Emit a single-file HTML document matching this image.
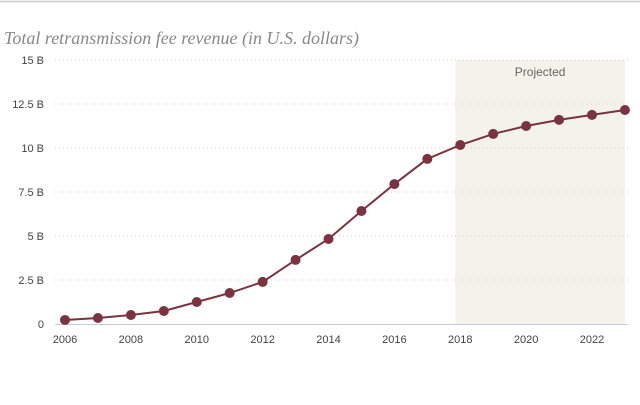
<!DOCTYPE html>
<html><head><meta charset="utf-8"><style>
body{margin:0;background:#fff;width:640px;height:400px;overflow:hidden}
</style></head><body>
<svg width="640" height="400" font-family="Liberation Sans, DejaVu Sans, sans-serif">
<line x1="0" y1="1.5" x2="640" y2="1.5" stroke="#ccc" stroke-width="1.5"/>
<text x="4" y="44" font-family="Liberation Serif, serif" font-style="italic" font-size="18" fill="#888">Total retransmission fee revenue (in U.S. dollars)</text>
<g id="g"></g>
</svg>
<script>
const years=[2006,2007,2008,2009,2010,2011,2012,2013,2014,2015,2016,2017,2018,2019,2020,2021,2022,2023];
const revenue=[0.23,0.34,0.51,0.74,1.25,1.76,2.39,3.64,4.83,6.42,7.95,9.38,10.17,10.8,11.25,11.6,11.88,12.16];
const yTicks=[0,2.5,5,7.5,10,12.5,15];
const yTickLabels=["0","2.5 B","5 B","7.5 B","10 B","12.5 B","15 B"];
const xTicks=[2006,2008,2010,2012,2014,2016,2018,2020,2022];
const projStart=2017.85, projEnd=2023;
const X=v=>65+(v-2006)*(592-65)/16;
const Y=v=>324-v*17.6;
const g=document.getElementById('g');
const NS='http://www.w3.org/2000/svg';
function mk(t,a){const e=document.createElementNS(NS,t);for(const k in a)e.setAttribute(k,a[k]);g.appendChild(e);return e;}
let r=mk('rect',{x:X(projStart),y:Y(15),width:X(projEnd)-X(projStart),height:Y(0)-Y(15),fill:'#f3f3ec'});


let pt=mk('text',{x:(X(projStart)+X(projEnd))/2,y:Y(15)+16,'text-anchor':'middle','font-size':12,fill:'#666'});pt.textContent='Projected';


yTicks.forEach((v,i)=>{
 if(v>0){let l=mk('line',{x1:55,x2:628,y1:Y(v),y2:Y(v),stroke:'#ccc','stroke-dasharray':'1 3'});
 
 }
 let t=mk('text',{x:44,y:Y(v)+4,'text-anchor':'end','font-size':11,fill:'#444'});t.textContent=yTickLabels[i];
 
 
});
let ax=mk('line',{x1:55,x2:628,y1:Y(0)+0.5,y2:Y(0)+0.5,stroke:'#c8cbe0'});


xTicks.forEach(v=>{let t=mk('text',{x:X(v),y:343,'text-anchor':'middle','font-size':11,fill:'#444'});t.textContent=v;
 
 });
let p=mk('polyline',{points:years.map((y,i)=>X(y)+','+Y(revenue[i])).join(' '),fill:'none',stroke:'#7b3341','stroke-width':2});


years.forEach((y,i)=>{let c=mk('circle',{cx:X(y),cy:Y(revenue[i]),r:5,fill:'#7b3341'});
 
 });
</script>
</body></html>
